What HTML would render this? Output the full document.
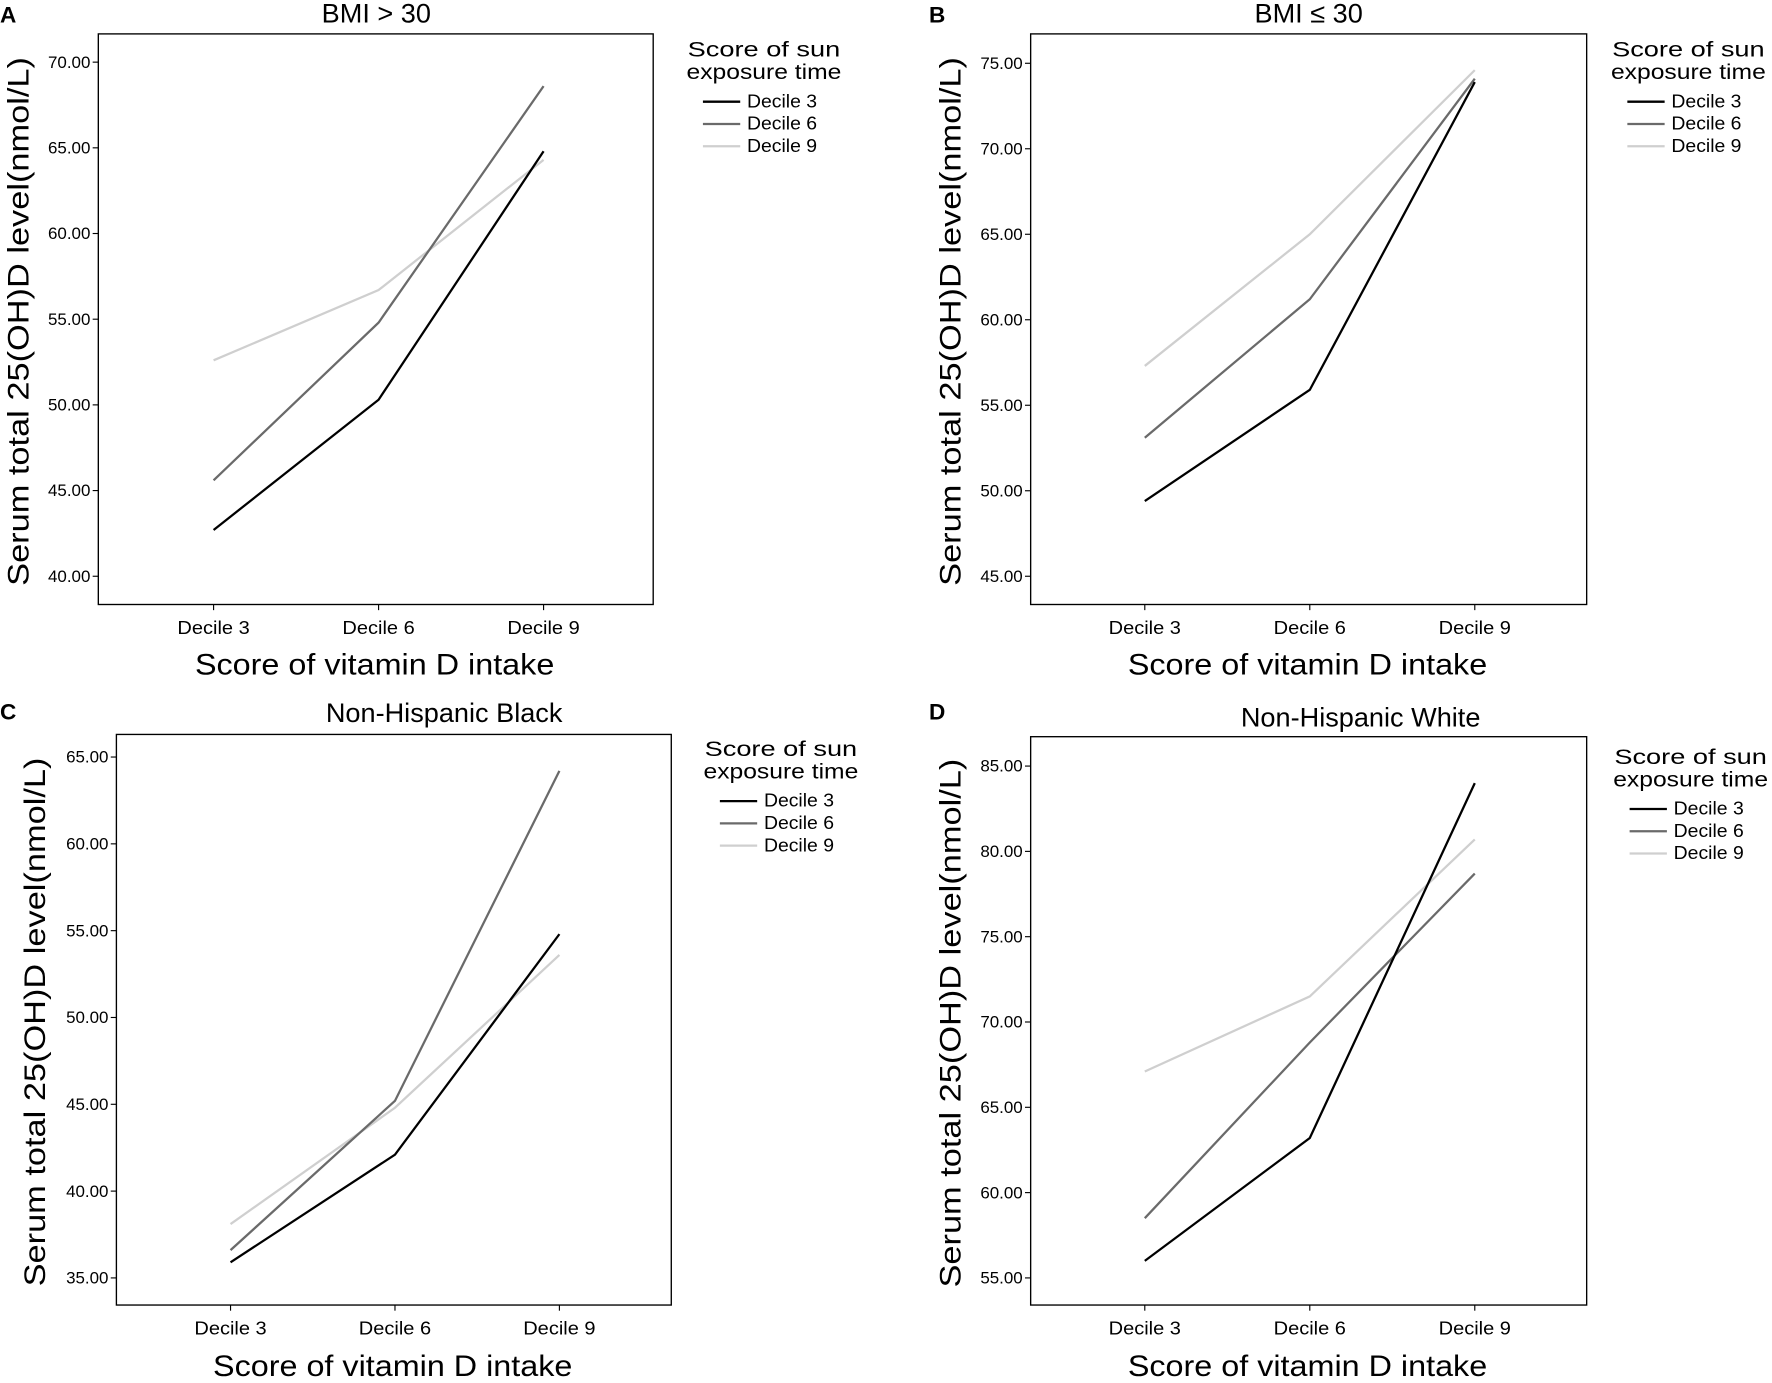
<!DOCTYPE html>
<html><head><meta charset="utf-8"><style>
body{margin:0;background:#fff;}
svg{display:block;font-family:"Liberation Sans",sans-serif;}
</style></head><body>
<svg id="c" width="1772" height="1383" viewBox="0 0 1568 1224" preserveAspectRatio="none"></svg>
<script>
const categories=["Decile 3","Decile 6","Decile 9"];
const seriesNames=["Decile 3","Decile 6","Decile 9"];
const aD3=[42.7,50.3,64.8], aD6=[45.6,54.8,68.6], aD9=[52.6,56.7,64.3];
const bD3=[49.4,55.9,73.9], bD6=[53.1,61.2,74.1], bD9=[57.3,65.0,74.6];
const cD3=[35.9,42.1,54.8], cD6=[36.6,45.2,64.2], cD9=[38.1,44.8,53.6];
const dD3=[56.0,63.2,84.0], dD6=[58.5,68.8,78.7], dD9=[67.1,71.5,80.7];
const aTicks=[40,45,50,55,60,65,70];
const bTicks=[45,50,55,60,65,70,75];
const cTicks=[35,40,45,50,55,60,65];
const dTicks=[55,60,65,70,75,80,85];
const titles=["BMI > 30","BMI ≤ 30","Non-Hispanic Black","Non-Hispanic White"];
const letters=["A","B","C","D"];
const colors=["#000","#6a6a6a","#cfcfcf"];
const NS="http://www.w3.org/2000/svg";
const svg=document.getElementById('c');
function mk(tag,attrs,parent,text){const e=document.createElementNS(NS,tag);for(const k in attrs)e.setAttribute(k,attrs[k]);if(text!==undefined)e.textContent=text;(parent||svg).appendChild(e);return e;}
const panels=[
 {L:87,R:578,T:30,B:535,vTop:70,yTop:55,vBot:40,yBot:510,x0:189,dx:146,data:[aD3,aD6,aD9],ticks:aTicks,tx:333,ty:20,lg:[608,44],yt:15,xt:598},
 {L:912,R:1404,T:30,B:535,vTop:75,yTop:56,vBot:45,yBot:510,x0:1013,dx:146,data:[bD3,bD6,bD9],ticks:bTicks,tx:1158,ty:20,lg:[1426,44],yt:840,xt:598},
 {L:103,R:594,T:650,B:1155,vTop:65,yTop:670,vBot:35,yBot:1131,x0:204,dx:145.5,data:[cD3,cD6,cD9],ticks:cTicks,tx:393,ty:639,lg:[623,663],yt:30,xt:1219},
 {L:912,R:1404,T:652,B:1155,vTop:85,yTop:678,vBot:55,yBot:1131,x0:1013,dx:146,data:[dD3,dD6,dD9],ticks:dTicks,tx:1204,ty:643,lg:[1428,670],yt:840,xt:1219}
];
panels.forEach((p,i)=>{
 const g=mk('g',{});
 
 
 const y=v=>p.yBot+(v-p.vBot)*(p.yTop-p.yBot)/(p.vTop-p.vBot);
 const x=j=>p.x0+j*p.dx;
 const lt=mk('text',{x:i%2?822:0,y:i<2?20:637,'font-size':20,'font-weight':'bold'},g,letters[i]);
 
 const t=mk('text',{x:p.tx,y:p.ty,'font-size':24,'text-anchor':'middle'},g,titles[i]);
 
 const box=mk('rect',{x:p.L,y:p.T,width:p.R-p.L,height:p.B-p.T,fill:'none',stroke:'#000','stroke-width':1.2},g);
 
 p.ticks.forEach(v=>{
  mk('line',{x1:p.L-5,x2:p.L,y1:y(v),y2:y(v),stroke:'#000'},g);
  const tl=mk('text',{x:p.L-7,y:y(v)+5,'font-size':15,'text-anchor':'end'},g,v.toFixed(2));
  
 });
 categories.forEach((c,j)=>{
  mk('line',{x1:x(j),x2:x(j),y1:p.B,y2:p.B+5,stroke:'#000'},g);
  const tl=mk('text',{x:x(j),y:p.B+26,'font-size':16,'text-anchor':'middle',textLength:64,lengthAdjust:'spacingAndGlyphs'},g,c);
  
 });
 const xt=mk('text',{x:(p.L+p.R)/2-1,y:p.xt-1,'font-size':26,'text-anchor':'middle',textLength:318,lengthAdjust:'spacingAndGlyphs'},g,'Score of vitamin D intake');
 
 const cy=(p.T+p.B)/2+2;
 const yt=mk('text',{x:0,y:0,'font-size':26,'text-anchor':'middle',textLength:468,lengthAdjust:'spacingAndGlyphs',transform:`translate(${p.yt+10},${cy}) rotate(-90)`},g,'Serum total 25(OH)D level(nmol/L)');
 
 [2,1,0].forEach(s=>{
  const pl=mk('polyline',{points:p.data[s].map((v,j)=>x(j)+','+y(v)).join(' '),fill:'none',stroke:colors[s],'stroke-width':2},g);
  
  
 });
 const [lx,ly]=p.lg;
 const lg=mk('g',{},g);
 
 mk('text',{x:lx+68,y:ly+6,'font-size':19,'text-anchor':'middle',textLength:135,lengthAdjust:'spacingAndGlyphs'},lg,'Score of sun');
 mk('text',{x:lx+68,y:ly+26,'font-size':19,'text-anchor':'middle',textLength:137,lengthAdjust:'spacingAndGlyphs'},lg,'exposure time');
 seriesNames.forEach((n,s)=>{
  const ey=ly+46+s*19.7;
  mk('line',{x1:lx+14,x2:lx+47,y1:ey,y2:ey,stroke:colors[s],'stroke-width':2},lg);
  const et=mk('text',{x:lx+53,y:ey+5,'font-size':16,textLength:62,lengthAdjust:'spacingAndGlyphs'},lg,n);
  
 });
});
</script>
</body></html>
